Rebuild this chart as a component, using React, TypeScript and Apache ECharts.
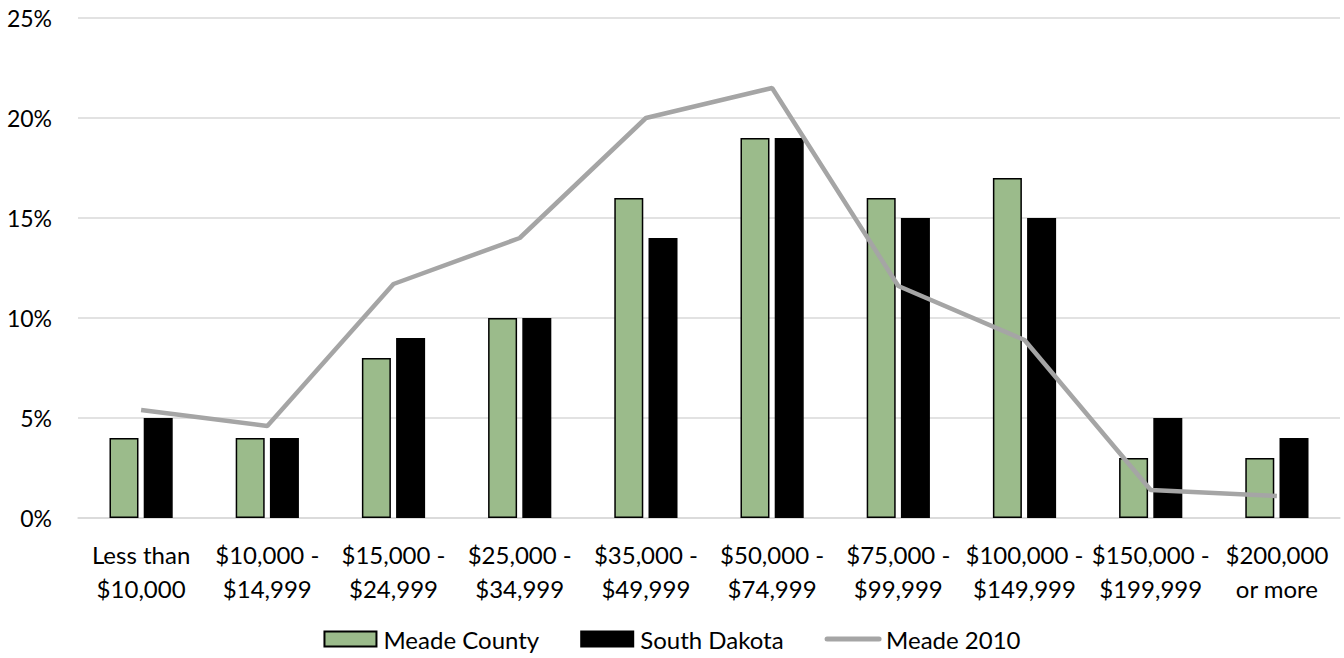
import React, { useEffect, useRef } from "react";
import * as echarts from "echarts";

const categories = [
  "Less than\n$10,000",
  "$10,000 -\n$14,999",
  "$15,000 -\n$24,999",
  "$25,000 -\n$34,999",
  "$35,000 -\n$49,999",
  "$50,000 -\n$74,999",
  "$75,000 -\n$99,999",
  "$100,000 -\n$149,999",
  "$150,000 -\n$199,999",
  "$200,000\nor more",
];
const meadeCounty = [4, 4, 8, 10, 16, 19, 16, 17, 3, 3];
const southDakota = [5, 4, 9, 10, 14, 19, 15, 15, 5, 4];
const meade2010 = [5.4, 4.6, 11.7, 14, 20, 21.5, 11.6, 8.9, 1.4, 1.1];

const FONT = "Lato, 'Open Sans', sans-serif";

export default function App() {
  const ref = useRef<HTMLDivElement>(null);
  useEffect(() => {
    if (!ref.current) return;
    const chart = echarts.init(ref.current, undefined, { renderer: "svg" });
    chart.setOption({
      animation: false,
      textStyle: { fontFamily: FONT },
      grid: { left: 78, right: 4, top: 18, bottom: 140 },
      legend: {
        bottom: 2,
        left: "center",
        itemWidth: 52,
        itemHeight: 15,
        itemGap: 41,
        textStyle: { fontSize: 24, color: "#000", fontFamily: FONT, padding: [0, 0, 0, 2] },
        data: [
          { name: "Meade County", icon: "rect" },
          { name: "South Dakota", icon: "rect" },
          {
            name: "Meade 2010",
            itemStyle: { opacity: 0 },
            lineStyle: { width: 5, color: "#a5a5a5", cap: "round" },
          },
        ],
      },
      xAxis: {
        type: "category",
        data: categories,
        axisLine: { show: true, lineStyle: { color: "#d9d9d9", width: 1.5 } },
        axisTick: { show: false },
        axisLabel: { fontSize: 24, color: "#000", lineHeight: 34, margin: 19, interval: 0 },
      },
      yAxis: {
        type: "value",
        min: 0,
        max: 25,
        interval: 5,
        axisLabel: { formatter: "{value}%", fontSize: 23, color: "#000", margin: 26 },
        splitLine: { lineStyle: { color: "#d9d9d9", width: 1.5 } },
        axisLine: { show: false },
        axisTick: { show: false },
      },
      series: [
        {
          name: "Meade County",
          type: "bar",
          data: meadeCounty,
          barWidth: 29,
          barGap: "18%",
          itemStyle: { color: "#9bbb8b", borderColor: "#000", borderWidth: 1.5 },
        },
        {
          name: "South Dakota",
          type: "bar",
          data: southDakota,
          barWidth: 29,
          itemStyle: { color: "#000", borderColor: "#000", borderWidth: 1.5 },
        },
        {
          name: "Meade 2010",
          type: "line",
          data: meade2010,
          symbol: "none",
          lineStyle: { color: "#a5a5a5", width: 4.5 },
          itemStyle: { color: "#a5a5a5" },
        },
      ],
    });
    return () => chart.dispose();
  }, []);
  return (
    <div
      ref={ref}
      style={{ position: "fixed", left: 0, top: 0, width: 1344, height: 658, background: "#fff" }}
    />
  );
}
